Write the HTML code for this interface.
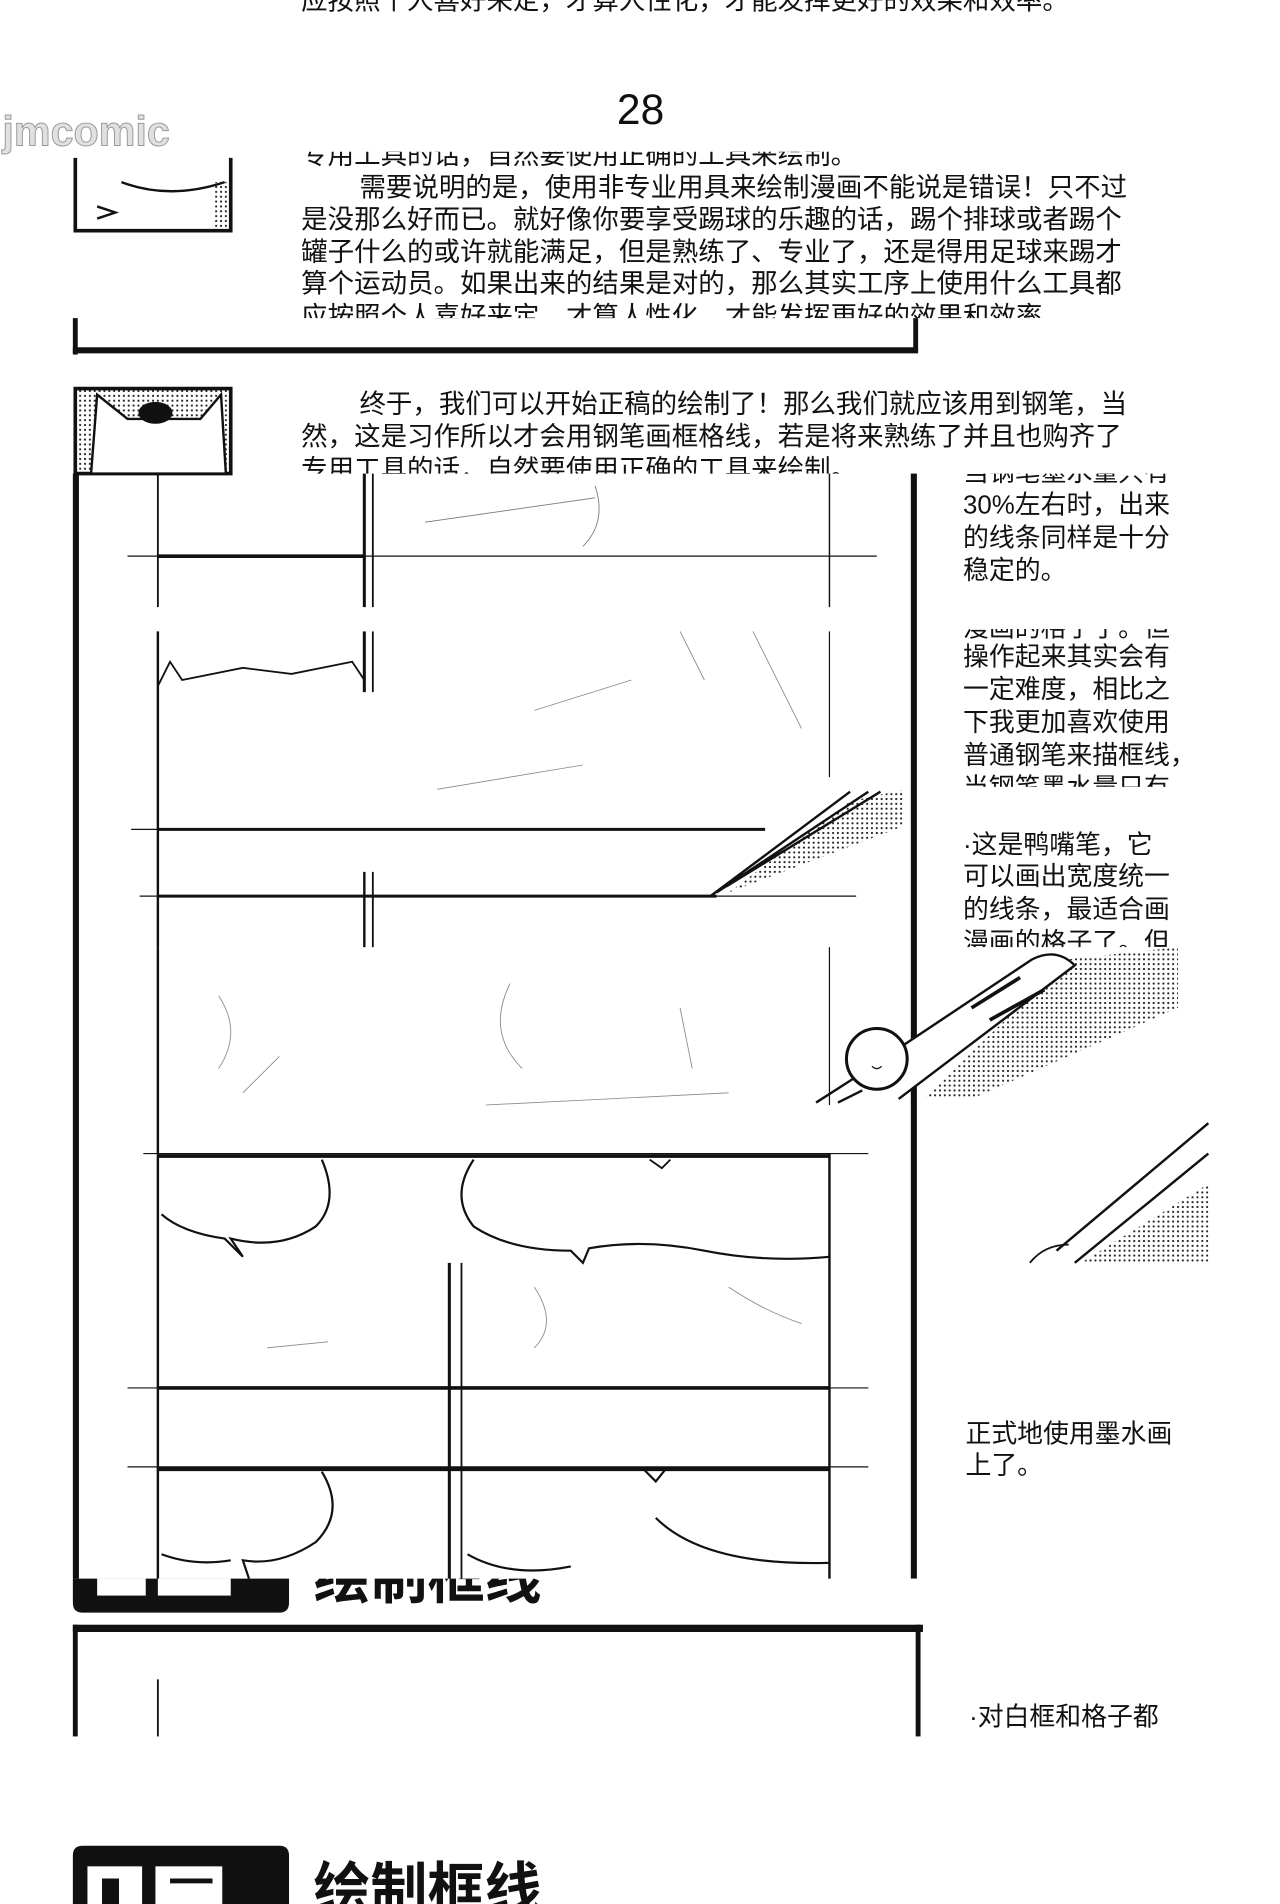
<!DOCTYPE html>
<html><head><meta charset="utf-8">
<style>
html,body{margin:0;padding:0;background:#fff;}
svg{display:block;}
text{font-family:"Liberation Sans","Noto Sans CJK SC",sans-serif;fill:#111;}
</style></head>
<body>
<svg width="1280" height="1904" viewBox="0 0 1054 1568" preserveAspectRatio="none" xmlns="http://www.w3.org/2000/svg">
<defs>
<pattern id="dots" width="4" height="4" patternUnits="userSpaceOnUse"><circle cx="2" cy="2" r="0.9" fill="#222"/></pattern>
<clipPath id="c1"><rect x="0" y="125" width="1054" height="137"/></clipPath>
<clipPath id="c2"><rect x="0" y="318" width="1054" height="72"/></clipPath>
</defs>
<rect width="1054" height="1568" fill="#fff"/>
<text x="248" y="8" font-size="21.8">应按照个人喜好来定，才算人性化，才能发挥更好的效果和效率。</text>
<text x="508" y="102" font-size="35">28</text>
<text x="2" y="120" font-size="34" font-weight="bold" style="fill:#e0e0e0;stroke:#999;stroke-width:0.8">jmcomic</text>

<g clip-path="url(#c1)" font-size="21.8">
<text x="248" y="135">专用工具的话，自然要使用正确的工具来绘制。</text>
<text x="296" y="162">需要说明的是，使用非专业用具来绘制漫画不能说是错误！只不过</text>
<text x="248" y="188">是没那么好而已。就好像你要享受踢球的乐趣的话，踢个排球或者踢个</text>
<text x="248" y="215">罐子什么的或许就能满足，但是熟练了、专业了，还是得用足球来踢才</text>
<text x="248" y="241">算个运动员。如果出来的结果是对的，那么其实工序上使用什么工具都</text>
<text x="248" y="268">应按照个人喜好来定，才算人性化，才能发挥更好的效果和效率。</text>
</g>
<path d="M62 130 L62 190 L190 190 L190 130" fill="none" stroke="#111" stroke-width="3"/>
<rect x="175" y="150" width="12" height="38" fill="url(#dots)"/>
<path d="M100 150 Q140 165 185 150" fill="none" stroke="#111" stroke-width="2"/>
<path d="M80 170 L95 175 L80 180" fill="none" stroke="#111" stroke-width="2"/>
<rect x="60" y="262" width="4" height="30" fill="#111"/>
<rect x="60" y="286" width="696" height="5" fill="#111"/>
<rect x="752" y="262" width="4" height="28" fill="#111"/>

<g clip-path="url(#c2)" font-size="21.8">
<text x="296" y="340">终于，我们可以开始正稿的绘制了！那么我们就应该用到钢笔，当</text>
<text x="248" y="367">然，这是习作所以才会用钢笔画框格线，若是将来熟练了并且也购齐了</text>
<text x="248" y="394">专用工具的话，自然要使用正确的工具来绘制。</text>
</g>
<rect x="62" y="320" width="128" height="70" fill="url(#dots)" stroke="#111" stroke-width="3"/>
<path d="M75 390 L80 325 L105 345 L165 345 L182 325 L186 390 Z" fill="#fff" stroke="#111" stroke-width="2"/>
<ellipse cx="128" cy="340" rx="14" ry="9" fill="#111"/>

<rect x="60" y="390" width="5" height="910" fill="#111"/>
<rect x="750" y="390" width="5" height="910" fill="#111"/>
<g stroke="#111" fill="none">
<line x1="130" y1="390" x2="130" y2="500" stroke-width="1.5"/>
<line x1="300" y1="390" x2="300" y2="500" stroke-width="2.5"/>
<line x1="307" y1="390" x2="307" y2="500" stroke-width="1.5"/>
<line x1="683" y1="390" x2="683" y2="500" stroke-width="1.2"/>
<line x1="105" y1="458" x2="722" y2="458" stroke-width="1"/>
<line x1="130" y1="458" x2="300" y2="458" stroke-width="3"/>
<line x1="130" y1="520" x2="130" y2="780" stroke-width="2"/>
<line x1="300" y1="520" x2="300" y2="570" stroke-width="2.5"/>
<line x1="307" y1="520" x2="307" y2="570" stroke-width="1.5"/>
<line x1="683" y1="520" x2="683" y2="640" stroke-width="1"/>
<path d="M130 565 L140 545 L150 560 L200 550 L240 555 L290 545 L300 560" stroke-width="1.5"/>
<line x1="108" y1="683" x2="630" y2="683" stroke-width="1"/>
<line x1="130" y1="683" x2="630" y2="683" stroke-width="2.5"/>
<line x1="115" y1="738" x2="705" y2="738" stroke-width="1"/>
<line x1="130" y1="738" x2="590" y2="738" stroke-width="2.5"/>
<line x1="300" y1="718" x2="300" y2="780" stroke-width="2"/>
<line x1="307" y1="718" x2="307" y2="780" stroke-width="1.5"/>
<line x1="683" y1="780" x2="683" y2="910" stroke-width="1"/>
<line x1="130" y1="780" x2="130" y2="1300" stroke-width="2"/>
<line x1="118" y1="950" x2="715" y2="950" stroke-width="1"/>
<line x1="130" y1="952" x2="683" y2="952" stroke-width="3"/>
<line x1="683" y1="950" x2="683" y2="1300" stroke-width="2"/>
<line x1="370" y1="1040" x2="370" y2="1300" stroke-width="2.5"/>
<line x1="380" y1="1040" x2="380" y2="1300" stroke-width="1.5"/>
<line x1="105" y1="1143" x2="715" y2="1143" stroke-width="1"/>
<line x1="130" y1="1143" x2="683" y2="1143" stroke-width="3"/>
<line x1="105" y1="1208" x2="715" y2="1208" stroke-width="1"/>
<line x1="130" y1="1210" x2="683" y2="1210" stroke-width="3"/>
<path d="M265 955 Q280 990 260 1010 Q230 1030 190 1020 L200 1035 L185 1020 Q150 1015 133 1000" stroke-width="1.8"/>
<path d="M390 955 Q370 985 390 1010 Q420 1030 470 1030 L480 1040 L485 1028 Q530 1020 580 1030 Q630 1040 683 1035" stroke-width="1.8"/>
<path d="M535 955 L545 962 L552 955" stroke-width="1.5"/>
<path d="M265 1212 Q285 1245 260 1270 Q230 1290 200 1285 L205 1300 M133 1280 Q160 1290 190 1285" stroke-width="1.8"/>
<path d="M385 1280 Q420 1300 470 1290 M530 1210 L540 1220 L548 1210 M540 1250 Q580 1290 683 1287" stroke-width="1.8"/>
<path d="M350 430 L490 410 M490 400 Q500 430 480 450" stroke-width="0.7" stroke="#777"/>
<path d="M440 585 L520 560 M560 520 L580 560 M620 520 L660 600 M360 650 L480 630" stroke-width="0.7" stroke="#888"/>
<path d="M180 820 Q200 850 180 880 M420 810 Q400 850 430 880 M560 830 L570 880 M200 900 L230 870 M400 910 L600 900" stroke-width="0.7" stroke="#888"/>
<path d="M220 1110 L270 1105 M440 1060 Q460 1090 440 1110 M600 1060 Q630 1080 660 1090" stroke-width="0.7" stroke="#888"/>
</g>
<polygon points="620,720 700,660 745,650 745,680 600,735" fill="url(#dots)"/>
<path d="M585 738 L700 652 M590 735 L715 652 M598 730 L725 652" stroke="#111" stroke-width="2" fill="none"/>
<polygon points="760,905 880,790 970,780 970,830 800,905" fill="url(#dots)"/>
<path d="M700 890 L850 790 Q870 780 885 795 L740 905" fill="#fff" stroke="#111" stroke-width="2"/>
<path d="M800 830 L840 805 M815 840 L860 815" stroke="#111" stroke-width="3"/>
<circle cx="722" cy="872" r="25" fill="#fff" stroke="#111" stroke-width="2.5"/>
<path d="M718 878 Q722 882 726 878" stroke="#111" fill="none"/>
<path d="M672 908 L700 890 M690 908 L710 898" stroke="#111" stroke-width="2"/>
<polygon points="890,1040 995,975 995,1040" fill="url(#dots)"/>
<path d="M870 1030 L995 925 M885 1040 L995 950" stroke="#111" stroke-width="2" fill="none"/>
<path d="M848 1040 Q860 1025 880 1025" stroke="#111" stroke-width="1.5" fill="none"/>

<g font-size="21.3">
<clipPath id="r1"><rect x="780" y="390" width="220" height="100"/></clipPath>
<g clip-path="url(#r1)">
<text x="793" y="396">当钢笔墨水量只有</text>
<text x="793" y="423">30%左右时，出来</text>
<text x="793" y="450">的线条同样是十分</text>
<text x="793" y="477">稳定的。</text>
</g>
<clipPath id="r2"><rect x="780" y="518" width="220" height="130"/></clipPath>
<g clip-path="url(#r2)">
<text x="793" y="524">漫画的格子了。但</text>
<text x="793" y="548">操作起来其实会有</text>
<text x="793" y="575">一定难度，相比之</text>
<text x="793" y="602">下我更加喜欢使用</text>
<text x="793" y="629">普通钢笔来描框线，</text>
<text x="793" y="656">当钢笔墨水量只有</text>
</g>
<clipPath id="r3"><rect x="780" y="680" width="220" height="100"/></clipPath>
<g clip-path="url(#r3)">
<text x="793" y="703">·这是鸭嘴笔，它</text>
<text x="793" y="729">可以画出宽度统一</text>
<text x="793" y="756">的线条，最适合画</text>
<text x="793" y="783">漫画的格子了。但</text>
</g>
<text x="795" y="1188">正式地使用墨水画</text>
<text x="795" y="1214">上了。</text>
<text x="798" y="1421">·对白框和格子都</text>
</g>

<path d="M60 1300 L238 1300 L238 1320 Q238 1328 230 1328 L68 1328 Q60 1328 60 1320 Z" fill="#111"/>
<rect x="80" y="1300" width="40" height="14" fill="#fff"/>
<rect x="130" y="1300" width="60" height="14" fill="#fff"/>
<clipPath id="h1"><rect x="250" y="1300" width="300" height="40"/></clipPath>
<text x="258" y="1316" font-size="47" font-weight="bold" clip-path="url(#h1)">绘制框线</text>
<rect x="60" y="1338" width="700" height="6" fill="#111"/>
<rect x="60" y="1338" width="4" height="92" fill="#111"/>
<rect x="754" y="1338" width="4" height="92" fill="#111"/>
<line x1="130" y1="1383" x2="130" y2="1430" stroke="#111" stroke-width="1.5"/>

<path d="M60 1528 Q60 1520 68 1520 L230 1520 Q238 1520 238 1528 L238 1568 L60 1568 Z" fill="#111"/>
<rect x="72" y="1537" width="45" height="31" fill="#fff"/>
<rect x="84" y="1547" width="14" height="21" fill="#111"/>
<rect x="128" y="1537" width="55" height="31" fill="#fff"/>
<rect x="140" y="1547" width="35" height="4" fill="#111"/>
<text x="258" y="1572" font-size="47" font-weight="bold">绘制框线</text>
</svg>
</body></html>
